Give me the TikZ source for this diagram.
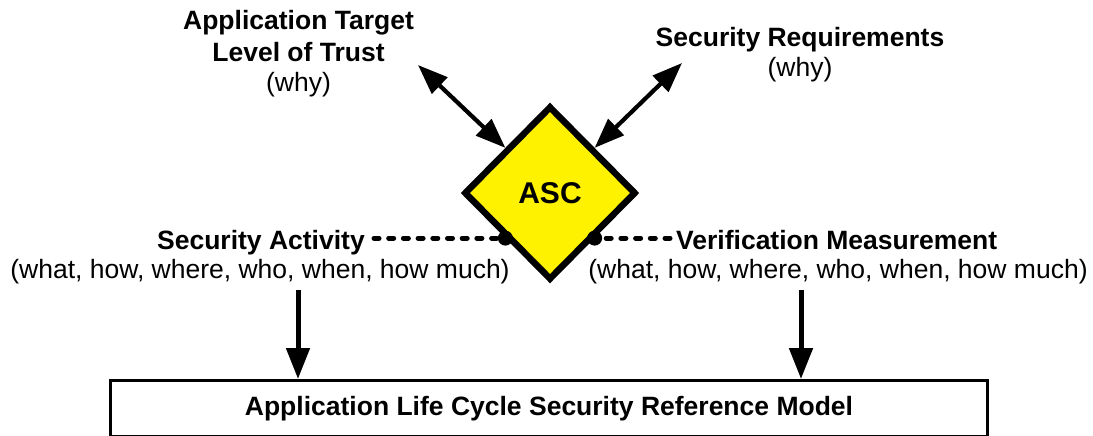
\documentclass[tikz,border=0pt]{standalone}
\usepackage{fontspec}
\setmainfont{Liberation Sans}
\usetikzlibrary{shapes.geometric,arrows.meta}
\begin{document}
\begin{tikzpicture}[x=1pt,y=-1pt,
  txt/.style={inner sep=0pt, font=\fontsize{26.5}{31}\selectfont},
  bold/.style={inner sep=0pt, font=\fontsize{26.5}{31}\selectfont\bfseries},
  ascbox/.style={diamond, draw, line width=6.5pt, fill=yellow, inner sep=0pt,
    minimum width=172pt, minimum height=174pt,
    font=\fontsize{30}{30}\selectfont\bfseries},
  modelbox/.style={draw, line width=3pt, inner sep=0pt,
    minimum width=877pt, minimum height=56pt,
    font=\fontsize{26.5}{31}\selectfont\bfseries},
  darrow/.style={line width=4.2pt,
    {Triangle[length=30pt,width=22pt]}-{Triangle[length=30pt,width=22pt]}},
  varrow/.style={line width=5pt, -{Triangle[length=31pt,width=23pt]}},
  dashline/.style={line width=5pt, line cap=round, dash pattern=on 5pt off 9.7pt},
  dot/.style={fill=black}
]
\useasboundingbox (0,0) rectangle (1093,436);

% central diamond
\node[ascbox] (asc) at (550,193) {ASC};

% reference model box
\node[modelbox] (model) at (549,408.5) {Application Life Cycle Security Reference Model};

% upper labels
\node[bold, anchor=base] (tl1) at (298.5,30) {Application Target};
\node[bold, anchor=base] (tl2) at (298.5,62) {Level of Trust};
\node[txt, anchor=base] (tl3) at (298.5,92) {(why)};
\node[bold, anchor=base] (tr1) at (800,47) {Security Requirements};
\node[txt, anchor=base] (tr2) at (800,77) {(why)};

% side labels
\node[bold, anchor=base east] (sa) at (365,249.5) {Security Activity};
\node[txt, anchor=base] (saw) at (260,278) {(what, how, where, who, when, how much)};
\node[bold, anchor=base west] (vm) at (676,249.5) {Verification Measurement};
\node[txt, anchor=base] (vmw) at (838,278) {(what, how, where, who, when, how much)};

% two-way arrows to the upper labels
\coordinate (tlend) at (418,65);
\coordinate (trend) at (682,63);
\draw[darrow] (tlend) -- (asc.north west);
\draw[darrow] (asc.north east) -- (trend);

% dashed leaders from the side labels to the diamond
\draw[dashline] ([xshift=9pt]sa.east |- asc.south west) -- (asc.south west);
\draw[dashline] ([xshift=-6pt]vm.west |- asc.south east) -- (asc.south east);
\fill[dot] (asc.south west) circle (7.5pt);
\fill[dot] (asc.south east) circle (7.5pt);

% arrows down to the model
\coordinate (va1) at (298,290);
\coordinate (va2) at (801,290);
\draw[varrow] (va1) -- (va1 |- model.north);
\draw[varrow] (va2) -- (va2 |- model.north);
\end{tikzpicture}
\end{document}
